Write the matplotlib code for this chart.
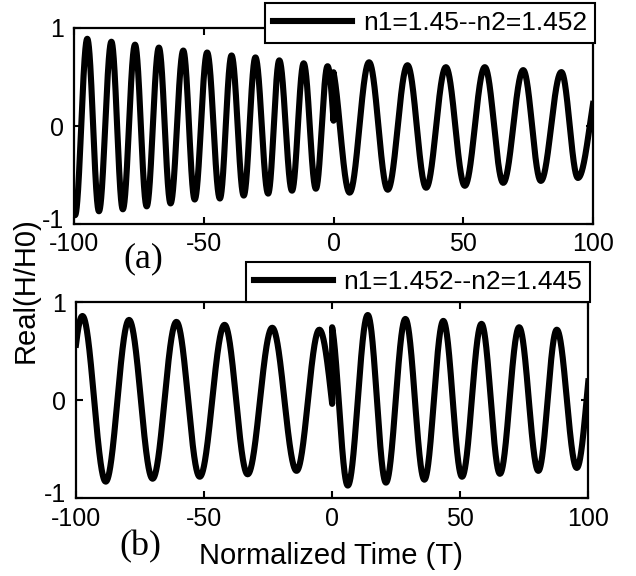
import numpy as np
import matplotlib.pyplot as plt
from matplotlib.transforms import ScaledTranslation

plt.rcParams['font.family'] = 'Liberation Sans'
plt.rcParams['axes.unicode_minus'] = False

# extrema (time, value), left and right of t = 0
a_left_t = [-104.2, -99.6, -94.9, -90.4, -85.6, -81.2, -76.5, -72.0, -67.3, -62.8, -57.9, -53.5,
            -48.7, -43.8, -39.3, -34.6, -30.1, -25.2, -20.9, -16.0, -11.5, -6.8, -2.3, 2.6]
a_left_v = [0.90, -0.91, 0.89, -0.87, 0.86, -0.85, 0.83, -0.82, 0.80, -0.79, 0.77, -0.75,
            0.75, -0.74, 0.72, -0.71, 0.70, -0.69, 0.67, -0.66, 0.64, -0.64, 0.61, -0.62]
a_right_t = [-1.1, 6.2, 13.7, 20.9, 28.5, 35.7, 43.3, 50.6, 58.3, 65.4, 73.1, 79.9, 87.8, 94.2, 103.4]
a_right_v = [0.62, -0.68, 0.65, -0.65, 0.62, -0.63, 0.60, -0.61, 0.60, -0.58, 0.57, -0.56, 0.55, -0.53, 0.55]

# extrema
b_left_t = [-106.7, -97.5, -88.4, -79.3, -70.1, -60.8, -51.7, -42.0, -33.0, -23.4, -13.9, -5.0, 4.6]
b_left_v = [-0.85, 0.86, -0.83, 0.82, -0.80, 0.80, -0.78, 0.77, -0.755, 0.74, -0.72, 0.72, -0.70]
b_right_t = [-0.8, 6.1, 13.9, 21.0, 28.6, 36.0, 43.4, 50.7, 58.3, 65.5, 73.0, 80.5, 87.7, 95.5, 103.2]
b_right_v = [0.80, -0.87, 0.87, -0.84, 0.83, -0.81, 0.81, -0.78, 0.78, -0.75, 0.745, -0.72, 0.72, -0.69, 0.71]

labels = ['n1=1.45--n2=1.452', 'n1=1.452--n2=1.445']
xticks = [-100, -50, 0, 50, 100]
yticks = [-1, 0, 1]


def wave(te, ve, t):
    # smooth half-cosine between successive extrema
    te, ve = np.asarray(te), np.asarray(ve)
    i = np.clip(np.searchsorted(te, t) - 1, 0, len(te) - 2)
    s = (t - te[i]) / (te[i + 1] - te[i])
    return ve[i] + (ve[i + 1] - ve[i]) * (1 - np.cos(np.pi * s)) / 2


tl = np.linspace(-100, 0, 3000)
tr = np.linspace(0, 100, 3000)
t = np.concatenate([tl, tr])

fig = plt.figure(figsize=(6.36, 5.76), dpi=100)
ax1 = fig.add_axes([0.1164, 0.6111, 0.816, 0.3403])
ax2 = fig.add_axes([0.1195, 0.1349, 0.8055, 0.3403])

ya = np.concatenate([wave(a_left_t, a_left_v, tl), wave(a_right_t, a_right_v, tr)])
yb = np.concatenate([wave(b_left_t, b_left_v, tl), wave(b_right_t, b_right_v, tr)])

ax1.plot(t, ya, color='black', lw=4.4, label=labels[0])
ax2.plot(t, yb, color='black', lw=4.4, label=labels[1])

anchors = [(595 / 636, 1 - 3 / 576), (590 / 636, 1 - 262 / 576)]
for ax, anc in zip([ax1, ax2], anchors):
    ax.set_xlim(-100, 100)
    ax.set_ylim(-1, 1)
    ax.set_xticks(xticks)
    ax.set_yticks(yticks)
    ax.tick_params(direction='in', length=5, width=1.5, top=True, right=True, labelsize=18)
    ax.tick_params(axis='x', pad=6)
    ax.tick_params(axis='y', pad=7)
    for sp in ax.spines.values():
        sp.set_linewidth(1.6)
    # lift the "-1" label a touch so it clears "-100"
    lab = ax.get_yticklabels()[0]
    lab.set_transform(lab.get_transform() + ScaledTranslation(0, 4 / 72, fig.dpi_scale_trans))
    leg = ax.legend(loc='upper right', bbox_to_anchor=anc, bbox_transform=fig.transFigure,
                    borderaxespad=0, fancybox=False, edgecolor='black', framealpha=1,
                    fontsize=19, handlelength=3.0, handletextpad=0.4, borderpad=0.3)
    leg.get_frame().set_linewidth(1.5)

fig.text(143 / 636, 1 - 259 / 576, '(a)', family='Liberation Serif', fontsize=26,
         ha='center', va='center')
fig.text(140 / 636, 1 - 547 / 576, '(b)', family='Liberation Serif', fontsize=26,
         ha='center', va='center')
fig.text(26 / 636, 1 - 290 / 576, 'Real(H/H0)', fontsize=21, rotation=90,
         ha='center', va='center')
fig.text(331 / 636, 1 - 556 / 576, 'Normalized Time (T)', fontsize=21,
         ha='center', va='center')

fig.savefig('out.png', dpi=100)
